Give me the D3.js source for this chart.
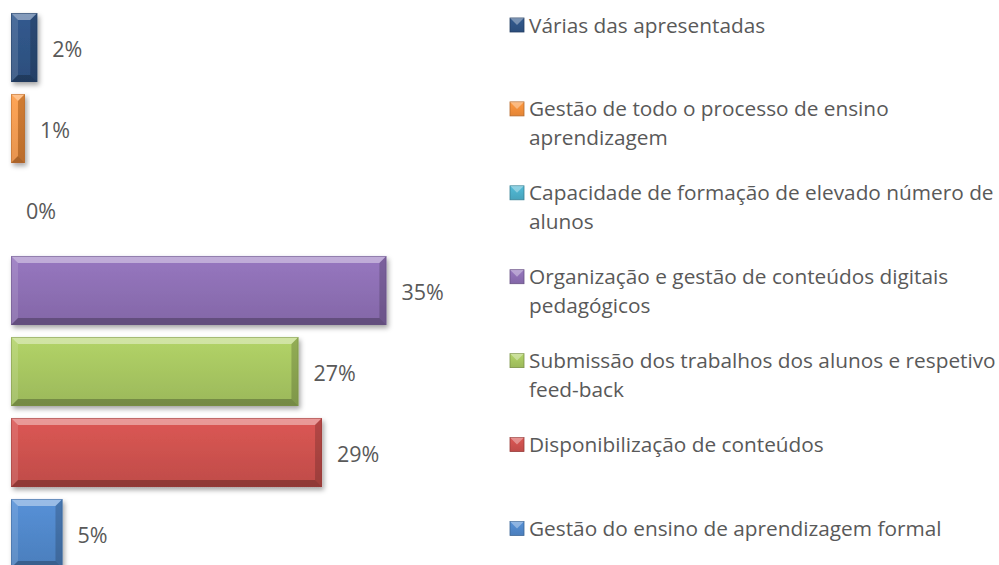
<!DOCTYPE html>
<html>
<head>
<meta charset="utf-8">
<script src="https://cdn.jsdelivr.net/npm/d3@7"></script>
<style>
	body { margin: 0; background: #fff; }
	text { font-family: "Open Sans", "Noto Sans", sans-serif; fill: #595959; }
</style>
</head>
<body>
<div id="chart"></div>
<script>
// categories top to bottom, as in the picture
var categories = [
	"Várias das apresentadas",
	"Gestão de todo o processo de ensino\naprendizagem",
	"Capacidade de formação de elevado número de\nalunos",
	"Organização e gestão de conteúdos digitais\npedagógicos",
	"Submissão dos trabalhos dos alunos e respetivo\nfeed-back",
	"Disponibilização de conteúdos",
	"Gestão do ensino de aprendizagem formal"
];
var values = [0.0245, 0.013, 0, 0.35, 0.268, 0.29, 0.048];
var colors = ["#2e5283", "#f08c3a", "#4bacc6", "#8a6db0", "#a4c25f", "#c9504d", "#4f85c6"];

var width = 999
var height = 565

var svg = d3.select("#chart")
	.append("svg")
	.attr("width", width)
	.attr("height", height);

var defs = svg.append("defs");

defs.append("filter")
	.attr("id", "shadow")
	.attr("x", "-20%").attr("y", "-20%")
	.attr("width", "150%").attr("height", "150%")
	.append("feDropShadow")
	.attr("dx", 2).attr("dy", 3)
	.attr("stdDeviation", 2.5)
	.attr("flood-color", "#000")
	.attr("flood-opacity", 0.35);

// vertical gradient for each colour
colors.forEach(function (c, i) {
	var g = defs.append("linearGradient")
		.attr("id", "grad" + i)
		.attr("x1", 0).attr("y1", 0).attr("x2", 0).attr("y2", 1);
	g.append("stop").attr("offset", "0%").attr("stop-color", d3.color(c).brighter(0.25));
	g.append("stop").attr("offset", "100%").attr("stop-color", d3.color(c).darker(0.15));
});

var xScale = d3.scaleLinear()
	.domain([0, 0.4])
	.range([11, 440]);

var yScale = d3.scaleBand()
	.domain(categories)
	.range([7, 574])
	.paddingInner(0.148)
	.paddingOuter(0.074);

var bevel = 7;

var bars = svg.selectAll("g.bar")
	.data(categories)
	.enter()
	.append("g")
	.attr("class", "bar");

bars.each(function (d, i) {
	if (values[i] <= 0) return;
	var g = d3.select(this);
	var x0 = xScale(0), x1 = xScale(values[i]);
	var y0 = yScale(d), y1 = y0 + yScale.bandwidth();
	var b = Math.min(bevel, (x1 - x0) / 2, (y1 - y0) / 2);

	g.append("rect")
		.attr("x", x0)
		.attr("y", y0)
		.attr("width", x1 - x0)
		.attr("height", y1 - y0)
		.attr("fill", "url(#grad" + i + ")")
		.attr("filter", "url(#shadow)");

	var faces = [
		[[x0, y0], [x1, y0], [x1 - b, y0 + b], [x0 + b, y0 + b], "#fff", 0.4],
		[[x0, y0], [x0 + b, y0 + b], [x0 + b, y1 - b], [x0, y1], "#fff", 0.12],
		[[x0, y1], [x0 + b, y1 - b], [x1 - b, y1 - b], [x1, y1], "#000", 0.25],
		[[x1, y0], [x1, y1], [x1 - b, y1 - b], [x1 - b, y0 + b], "#000", 0.18]
	];
	faces.forEach(function (f) {
		g.append("polygon")
			.attr("points", f.slice(0, 4).map(function (p) { return p.join(","); }).join(" "))
			.attr("fill", f[4])
			.attr("fill-opacity", f[5]);
	});
	g.append("rect")
		.attr("x", x0 + 0.5)
		.attr("y", y0 + 0.5)
		.attr("width", x1 - x0 - 1)
		.attr("height", y1 - y0 - 1)
		.attr("fill", "none")
		.attr("stroke", d3.color(colors[i]).darker(0.8))
		.attr("stroke-opacity", 0.5);
});

// value labels
var fmt = d3.format(".0%");
svg.selectAll("text.value")
	.data(categories)
	.enter()
	.append("text")
	.attr("class", "value")
	.attr("x", function (d, i) { return xScale(values[i]) + 15; })
	.attr("y", function (d) { return yScale(d) + yScale.bandwidth() / 2 + 9; })
	.style("font-size", "21.5px")
	.text(function (d, i) { return fmt(values[i]); });

// legend
var legendStep = 83.9;
var legend = svg.selectAll("g.legend")
	.data(categories)
	.enter()
	.append("g")
	.attr("class", "legend")
	.attr("transform", function (d, i) { return "translate(510," + (25 + i * legendStep) + ")"; });

legend.append("rect")
	.attr("x", 0)
	.attr("y", -7)
	.attr("width", 14)
	.attr("height", 14)
	.attr("fill", function (d, i) { return "url(#grad" + i + ")"; })
	.attr("stroke", function (d, i) { return d3.color(colors[i]).darker(0.8); })
	.attr("stroke-width", 0.8);

legend.append("polygon")
	.attr("points", "0,-7 14,-7 7,0")
	.attr("fill", "#fff")
	.attr("fill-opacity", 0.35);

legend.append("text")
	.attr("x", 19)
	.attr("y", 7.5)
	.style("font-size", "20.8px")
	.selectAll("tspan")
	.data(function (d) { return d.split("\n"); })
	.enter()
	.append("tspan")
	.attr("x", 19)
	.attr("dy", function (d, i) { return i ? 28.5 : 0; })
	.text(function (d) { return d; });
</script>
</body>
</html>
